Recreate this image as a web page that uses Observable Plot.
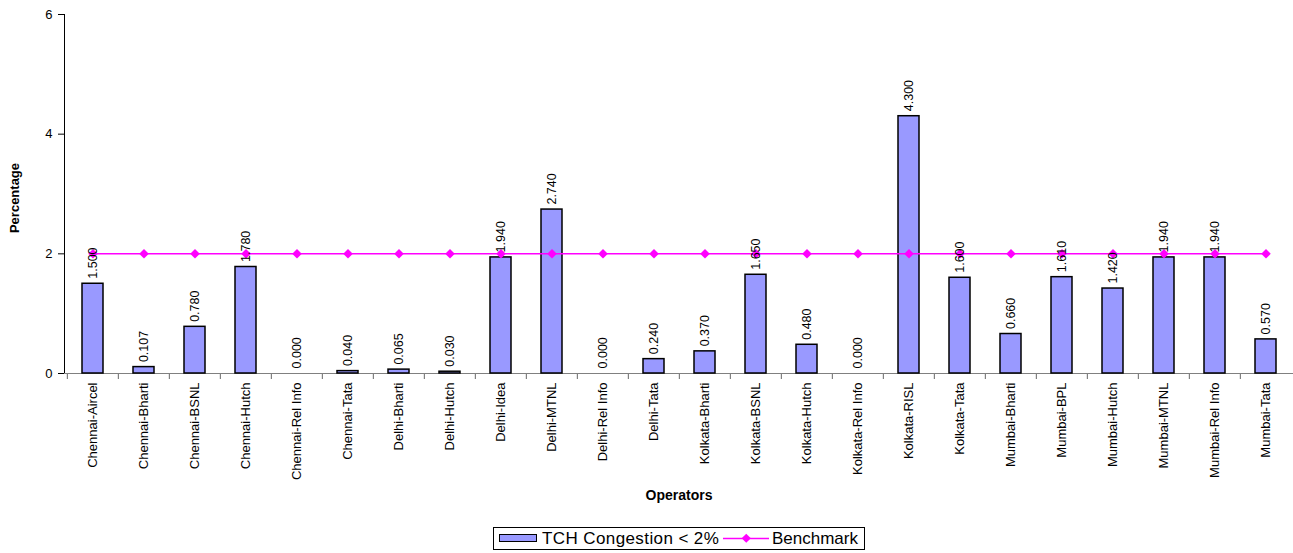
<!DOCTYPE html>
<html>
<head>
<meta charset="utf-8">
<script src="https://cdn.jsdelivr.net/npm/d3@7"></script>
<script src="https://cdn.jsdelivr.net/npm/@observablehq/plot@0.6"></script>
<style>
  body { margin: 0; background: #fff; font-family: "Liberation Sans", Arial, sans-serif; }
  #chart { position: absolute; left: 0; top: 0; }
  #legend { position: absolute; left: 493px; top: 527px; width: 372px; height: 23px; border: 1px solid #000; box-sizing: border-box; background: #fff; font-size: 17px; white-space: nowrap; }
  #legend .sw { position: absolute; left: 5px; top: 6px; width: 38px; height: 8px; background: #9999FF; border: 1.5px solid #000; box-sizing: border-box; }
  #legend .t1 { position: absolute; left: 48px; top: 1px; line-height: 19px; letter-spacing: 0.4px; }
  #legend svg { position: absolute; left: 229px; top: 4px; }
  #legend .t2 { position: absolute; left: 278px; top: 1px; line-height: 19px; }
</style>
</head>
<body>
<div id="chart"></div>
<div id="legend">
  <span class="sw"></span><span class="t1">TCH Congestion &lt; 2%</span>
  <svg width="46" height="13"><line x1="0" y1="6.5" x2="46" y2="6.5" stroke="#FF00FF" stroke-width="1.5"/><rect x="20" y="3" width="6.5" height="6.5" fill="#FF00FF" transform="rotate(45 23.25 6.25)"/></svg>
  <span class="t2">Benchmark</span>
</div>
<script>
const categories = [
  "Chennai-Aircel", "Chennai-Bharti", "Chennai-BSNL", "Chennai-Hutch", "Chennai-Rel Info", "Chennai-Tata",
  "Delhi-Bharti", "Delhi-Hutch", "Delhi-Idea", "Delhi-MTNL", "Delhi-Rel Info", "Delhi-Tata",
  "Kolkata-Bharti", "Kolkata-BSNL", "Kolkata-Hutch", "Kolkata-Rel Info", "Kolkata-RISL", "Kolkata-Tata",
  "Mumbai-Bharti", "Mumbai-BPL", "Mumbai-Hutch", "Mumbai-MTNL", "Mumbai-Rel Info", "Mumbai-Tata"
];
const tchValues = [
  1.500, 0.107, 0.780, 1.780, 0.000, 0.040,
  0.065, 0.030, 1.940, 2.740, 0.000, 0.240,
  0.370, 1.650, 0.480, 0.000, 4.300, 1.600,
  0.660, 1.610, 1.420, 1.940, 1.940, 0.570
];
const benchmarkValues = [
  2, 2, 2, 2, 2, 2,
  2, 2, 2, 2, 2, 2,
  2, 2, 2, 2, 2, 2,
  2, 2, 2, 2, 2, 2
];
const yTicks = [0, 2, 4, 6];
const yLabel = "Percentage";
const xLabel = "Operators";

const rows = categories.map((c, i) => ({category: c, tch: tchValues[i], bench: benchmarkValues[i]}));

const W = 1293, H = 520, ML = 64, MR = 0, MT = 14, MB = 147;
const step = (W - ML - MR) / categories.length;

const chart = Plot.plot({
  width: W, height: H,
  marginLeft: ML, marginRight: MR, marginTop: MT, marginBottom: MB,
  style: {fontFamily: "'Liberation Sans', Arial, sans-serif", fontSize: "13px", background: "white", color: "black"},
  x: {domain: categories, paddingInner: 0.59, paddingOuter: 0.295, axis: null},
  y: {domain: [0, 6], ticks: yTicks, tickFormat: d3.format("d"), tickSize: 6, tickPadding: 6, label: null, line: true},
  marks: [
    Plot.ruleY([0], {stroke: "#808080", strokeWidth: 1.2}),
    Plot.ruleX(categories, {x: d => d, dx: -step / 2, insetTop: H - MT - MB, insetBottom: -6, stroke: "#808080", strokeWidth: 1.2}),
    Plot.barY(rows.filter(d => d.tch > 0), {x: "category", y: "tch", fill: "#9999FF", stroke: "black", strokeWidth: 1.5}),
    Plot.line(rows, {x: "category", y: "bench", stroke: "#FF00FF", strokeWidth: 1.5}),
    Plot.dot(rows, {x: "category", y: "bench", symbol: "square", r: 3.8, rotate: 45, fill: "#FF00FF", stroke: "none"}),
    Plot.text(rows, {x: "category", y: "tch", text: d => d.tch.toFixed(3), rotate: -90, textAnchor: "start", dy: -5, fontSize: 12.5, fill: "black"}),
    Plot.text(categories, {x: d => d, y: d => 0, text: d => d, rotate: -90, textAnchor: "end", dy: 9, fontSize: 13, fill: "black"}),
    Plot.text([yLabel], {frameAnchor: "left", text: d => d, rotate: -90, textAnchor: "middle", lineAnchor: "middle", dx: -50, dy: 4, fontSize: 13, fontWeight: "bold", fill: "black"}),
    Plot.text([xLabel], {frameAnchor: "bottom", text: d => d, textAnchor: "middle", lineAnchor: "middle", dy: 122, fontSize: 14, fontWeight: "bold", fill: "black"})
  ]
});
document.getElementById("chart").appendChild(chart);
</script>
</body>
</html>
